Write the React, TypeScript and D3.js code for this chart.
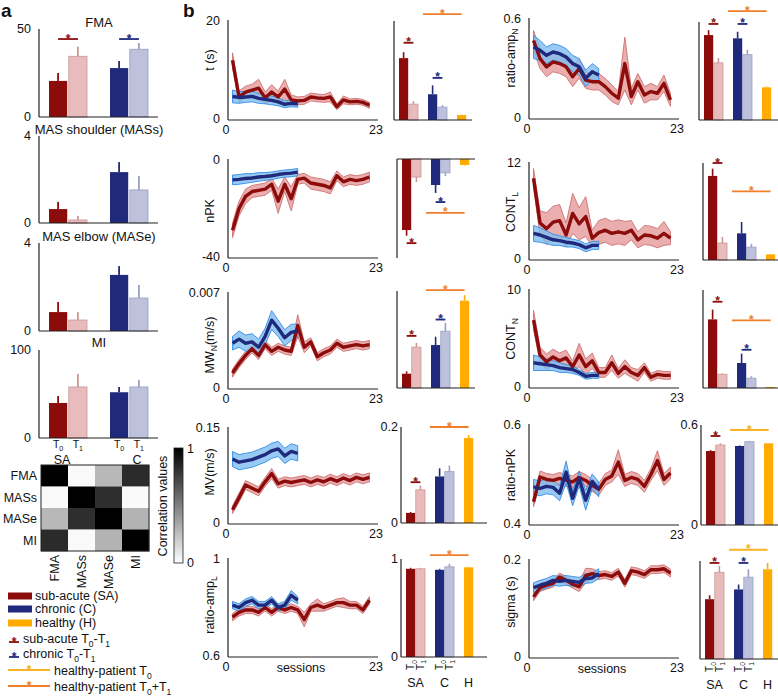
import { useEffect, useRef } from "react";
import * as d3 from "d3";

// ---------- data ----------
const SA_SESSIONS = [1, 2, 3, 4, 5, 6, 7, 8, 9, 10, 11, 12, 13, 14, 15, 16, 17, 18, 19, 20, 21, 22];
const C_SESSIONS = [1, 2, 3, 4, 5, 6, 7, 8, 9, 10, 11];
const BAR_KEYS: [string, string][] = [["SA", "T0"], ["SA", "T1"], ["C", "T0"], ["C", "T1"], ["H", "T0"]];

const T_SA = [12.0, 4.5, 5.5, 5.9, 6.3, 4.3, 5.5, 4.5, 6.1, 3.9, 3.7, 3.8, 4.5, 4.3, 4.2, 4.5, 2.5, 3.9, 3.5, 3.6, 3.4, 2.8];
const T_SA_ERR = [1.5, 1.2, 1.2, 1.2, 1.8, 1.2, 1.5, 1.2, 2.0, 1.0, 0.8, 0.8, 0.8, 0.8, 0.8, 1.0, 0.6, 0.8, 0.6, 0.6, 0.6, 0.6];
const T_C = [4.6, 4.4, 4.5, 4.6, 4.2, 4.0, 3.8, 3.5, 3.0, 3.2, 3.1];
const T_C_ERR = [1.3, 1.2, 1.1, 1.1, 1.0, 0.9, 0.9, 0.8, 0.7, 0.7, 0.7];
const T_BARS = [12.5, 3.2, 5.2, 2.6, 1.0];
const T_BARS_ERR = [1.2, 0.6, 1.8, 0.4, 0.1];

const NPK_SA = [-29, -20, -15, -13, -12.5, -12, -10, -17, -10, -16, -8, -7.5, -9.5, -10, -10.5, -11.5, -6.5, -9, -8, -8.5, -8, -7];
const NPK_SA_ERR = [3, 3, 3, 2.5, 2.5, 2.5, 2.5, 5, 3, 5, 2, 2, 2.5, 2.5, 2.5, 2.5, 2, 2, 2, 2, 2, 2];
const NPK_C = [-8.2, -8, -7.6, -7.4, -7, -6.8, -6.5, -6, -5.6, -5.4, -5];
const NPK_C_ERR = [2, 2, 2, 1.8, 1.8, 1.6, 1.6, 1.5, 1.5, 1.5, 1.5];
const NPK_BARS = [-28.7, -7.3, -10.5, -5.6, -2.4];
const NPK_BARS_ERR = [2.3, 2.0, 3.2, 1.3, 0.2];

const MW_SA = [0.0011, 0.0018, 0.0024, 0.0029, 0.0024, 0.0032, 0.0027, 0.003, 0.0028, 0.0027, 0.0046, 0.003, 0.0034, 0.0023, 0.0026, 0.0028, 0.0033, 0.003, 0.0031, 0.0032, 0.0031, 0.0032];
const MW_SA_ERR = [0.0003, 0.0003, 0.0003, 0.0003, 0.0003, 0.0003, 0.0003, 0.0003, 0.0003, 0.0003, 0.0008, 0.0004, 0.0003, 0.0003, 0.0003, 0.0003, 0.0003, 0.0003, 0.0003, 0.0003, 0.0003, 0.0003];
const MW_C = [0.0033, 0.0036, 0.0033, 0.0034, 0.003, 0.0038, 0.005, 0.0044, 0.0037, 0.0041, 0.0042];
const MW_C_ERR = [0.0005, 0.0006, 0.0006, 0.0006, 0.0006, 0.0006, 0.0007, 0.0006, 0.0006, 0.0006, 0.0005];
const MW_BARS = [0.00103, 0.00295, 0.0031, 0.0041, 0.0063];
const MW_BARS_ERR = [0.00017, 0.0003, 0.0006, 0.0006, 0.0004];

const MV_SA = [0.021, 0.04, 0.06, 0.055, 0.05, 0.065, 0.078, 0.062, 0.066, 0.064, 0.066, 0.068, 0.064, 0.068, 0.065, 0.07, 0.066, 0.071, 0.067, 0.072, 0.069, 0.072];
const MV_SA_ERR = [0.006, 0.007, 0.007, 0.007, 0.007, 0.007, 0.008, 0.007, 0.007, 0.007, 0.007, 0.007, 0.007, 0.007, 0.007, 0.007, 0.007, 0.007, 0.007, 0.007, 0.007, 0.007];
const MV_C = [0.101, 0.096, 0.098, 0.1, 0.104, 0.108, 0.114, 0.117, 0.106, 0.113, 0.11];
const MV_C_ERR = [0.012, 0.012, 0.012, 0.012, 0.012, 0.012, 0.012, 0.012, 0.012, 0.012, 0.012];
const MV_BARS = [0.021, 0.069, 0.097, 0.107, 0.177];
const MV_BARS_ERR = [0.002, 0.009, 0.017, 0.013, 0.006];

const RAL_SA = [0.76, 0.78, 0.79, 0.79, 0.78, 0.8, 0.78, 0.8, 0.79, 0.8, 0.79, 0.75, 0.8, 0.81, 0.8, 0.81, 0.82, 0.82, 0.81, 0.81, 0.79, 0.83];
const RAL_SA_ERR = [0.015, 0.015, 0.015, 0.015, 0.015, 0.015, 0.015, 0.015, 0.015, 0.015, 0.015, 0.03, 0.015, 0.025, 0.015, 0.015, 0.015, 0.02, 0.015, 0.015, 0.015, 0.015];
const RAL_C = [0.81, 0.8, 0.82, 0.83, 0.81, 0.81, 0.83, 0.8, 0.81, 0.85, 0.83];
const RAL_C_ERR = [0.015, 0.015, 0.015, 0.015, 0.015, 0.015, 0.015, 0.015, 0.015, 0.02, 0.015];
const RAL_BARS = [0.9, 0.9, 0.89, 0.92, 0.915];
const RAL_BARS_ERR = [0.01, 0.01, 0.01, 0.03, 0.005];

const RAN_SA = [0.47, 0.36, 0.31, 0.34, 0.33, 0.31, 0.25, 0.3, 0.23, 0.22, 0.22, 0.19, 0.15, 0.12, 0.33, 0.13, 0.22, 0.14, 0.16, 0.15, 0.21, 0.11];
const RAN_SA_ERR = [0.06, 0.06, 0.06, 0.06, 0.06, 0.06, 0.06, 0.06, 0.05, 0.05, 0.05, 0.05, 0.05, 0.04, 0.16, 0.05, 0.05, 0.05, 0.05, 0.04, 0.05, 0.04];
const RAN_C = [0.43, 0.41, 0.38, 0.4, 0.39, 0.37, 0.33, 0.31, 0.24, 0.28, 0.26];
const RAN_C_ERR = [0.07, 0.06, 0.05, 0.05, 0.05, 0.05, 0.05, 0.05, 0.05, 0.05, 0.04];
const RAN_BARS = [0.52, 0.35, 0.5, 0.4, 0.2];
const RAN_BARS_ERR = [0.03, 0.03, 0.04, 0.03, 0.005];

const CL_SA = [10.1, 4.5, 3.8, 4.6, 4.8, 3.0, 5.7, 4.4, 5.3, 2.6, 3.3, 3.6, 3.2, 3.4, 3.2, 3.6, 2.4, 3.0, 2.9, 2.6, 3.2, 2.6];
const CL_SA_ERR = [1.2, 1.5, 2.0, 2.0, 2.0, 1.5, 2.5, 2.0, 2.5, 1.0, 1.5, 1.5, 1.5, 1.5, 1.5, 1.2, 1.0, 1.2, 1.2, 1.2, 1.5, 0.8];
const CL_C = [3.2, 3.0, 2.7, 2.4, 2.3, 2.1, 2.0, 1.8, 1.4, 1.7, 1.7];
const CL_C_ERR = [1.0, 0.9, 0.8, 0.7, 0.6, 0.6, 0.5, 0.5, 0.5, 0.5, 0.5];
const CL_BARS = [10.4, 2.1, 3.3, 1.6, 0.7];
const CL_BARS_ERR = [0.9, 0.75, 1.4, 0.4, 0.05];

const CN_SA = [6.9, 3.3, 2.6, 3.1, 2.7, 3.0, 2.1, 3.3, 2.1, 2.7, 1.5, 1.5, 2.5, 1.4, 2.1, 1.5, 1.2, 2.0, 1.0, 1.3, 1.2, 1.2];
const CN_SA_ERR = [1.0, 0.8, 0.8, 0.8, 0.8, 0.8, 0.6, 1.2, 0.8, 0.8, 0.5, 0.5, 0.8, 0.5, 0.7, 0.5, 0.6, 0.5, 0.4, 0.4, 0.4, 0.4];
const CN_C = [2.5, 2.4, 2.3, 2.2, 2.0, 1.9, 1.8, 1.5, 1.1, 1.2, 1.2];
const CN_C_ERR = [0.8, 0.7, 0.6, 0.5, 0.5, 0.4, 0.4, 0.3, 0.3, 0.3, 0.3];
const CN_BARS = [7.0, 1.4, 2.55, 1.0, 0.1];
const CN_BARS_ERR = [1.0, 0.1, 0.95, 0.2, 0.02];

const RNPK_SA = [0.445, 0.495, 0.49, 0.488, 0.492, 0.488, 0.485, 0.494, 0.488, 0.478, 0.47, 0.49, 0.497, 0.525, 0.488, 0.494, 0.49, 0.476, 0.5, 0.528, 0.49, 0.503];
const RNPK_SA_ERR = [0.01, 0.012, 0.012, 0.012, 0.012, 0.012, 0.012, 0.012, 0.012, 0.012, 0.012, 0.012, 0.012, 0.025, 0.012, 0.012, 0.012, 0.012, 0.012, 0.02, 0.012, 0.012];
const RNPK_C = [0.475, 0.472, 0.476, 0.474, 0.462, 0.505, 0.452, 0.492, 0.448, 0.486, 0.47];
const RNPK_C_ERR = [0.015, 0.015, 0.015, 0.015, 0.015, 0.022, 0.015, 0.015, 0.02, 0.015, 0.015];
const RNPK_BARS = [0.444, 0.48, 0.474, 0.5, 0.49];
const RNPK_BARS_ERR = [0.005, 0.01, 0.003, 0.005, 0.002];

const SIG_SA = [0.124, 0.143, 0.148, 0.152, 0.165, 0.158, 0.15, 0.145, 0.168, 0.172, 0.168, 0.17, 0.166, 0.175, 0.152, 0.178, 0.175, 0.17, 0.18, 0.18, 0.182, 0.173];
const SIG_SA_ERR = [0.008, 0.008, 0.008, 0.008, 0.008, 0.008, 0.008, 0.01, 0.015, 0.01, 0.008, 0.008, 0.008, 0.008, 0.008, 0.008, 0.008, 0.008, 0.008, 0.008, 0.008, 0.008];
const SIG_C = [0.143, 0.148, 0.152, 0.158, 0.156, 0.158, 0.156, 0.154, 0.162, 0.163, 0.172];
const SIG_C_ERR = [0.01, 0.01, 0.01, 0.01, 0.01, 0.01, 0.01, 0.01, 0.01, 0.01, 0.01];
const SIG_BARS = [0.122, 0.177, 0.142, 0.167, 0.183];
const SIG_BARS_ERR = [0.008, 0.013, 0.01, 0.016, 0.013];

// significance markers: pair and height in data units
const T_STARS = [{ pair: "SA", v: 15.6 }, { pair: "C", v: 8.5 }, { pair: "H01", v: 21.4 }];
const NPK_STARS = [{ pair: "SA", v: -34 }, { pair: "C", v: -17.4 }, { pair: "H01", v: -21.8 }];
const MW_STARS = [{ pair: "SA", v: 0.00376 }, { pair: "C", v: 0.00494 }, { pair: "H01", v: 0.00707 }];
const MV_STARS = [{ pair: "SA", v: 0.085 }, { pair: "H01", v: 0.2 }];
const RAL_STARS = [{ pair: "H01", v: 1.04 }];
const RAN_STARS = [{ pair: "SA", v: 0.588 }, { pair: "C", v: 0.588 }, { pair: "H01", v: 0.667 }];
const CL_STARS = [{ pair: "SA", v: 12 }, { pair: "H01", v: 8.5 }];
const CN_STARS = [{ pair: "SA", v: 8.8 }, { pair: "C", v: 3.9 }, { pair: "H01", v: 6.9 }];
const RNPK_STARS = [{ pair: "SA", v: 0.534 }, { pair: "H0", v: 0.57 }];
const SIG_STARS = [{ pair: "SA", v: 0.196 }, { pair: "C", v: 0.196 }, { pair: "H0", v: 0.223 }];

// panel a clinical scales: SA T0, SA T1, C T0, C T1
const A_KEYS: [string, string][] = [["SA", "T0"], ["SA", "T1"], ["C", "T0"], ["C", "T1"]];
const FMA_VALS = [20.5, 34.5, 27.8, 38.5];
const FMA_ERR = [4.5, 5.5, 4, 3.5];
const MASS_VALS = [0.64, 0.14, 2.34, 1.52];
const MASS_ERR = [0.33, 0.18, 0.46, 0.64];
const MASE_VALS = [0.86, 0.5, 2.55, 1.5];
const MASE_ERR = [0.46, 0.36, 0.4, 0.59];
const MI_VALS = [39.8, 58, 52, 58];
const MI_ERR = [7.9, 14.7, 6, 8];
const FMA_STARS = [{ pair: "SA", v: 44.3 }, { pair: "C", v: 44.3 }];

const HM_LABELS = ["FMA", "MASs", "MASe", "MI"];
const HM_VALUES = [
  [1, 0.02, 0.28, 0.83],
  [0.02, 1, 0.82, 0.02],
  [0.28, 0.82, 1, 0.3],
  [0.83, 0.02, 0.3, 1],
];

// ---------- style ----------
const FONT = "'Liberation Sans', Arial, Helvetica, sans-serif";
const SA_COLOR = "#8c0c0c";
const SA_LIGHT = "#e8bcbc";
const SA_LIGHT_STROKE = "#cc9696";
const C_COLOR = "#202a7c";
const C_LIGHT = "#bec1db";
const C_LIGHT_STROKE = "#9a9fc6";
const H_COLOR = "#ffab00";
const STAR_T01 = "#f07f2a";
const STAR_T0 = "#f6b322";
const SA_BAND = "#e6a0a0";
const SA_BAND_STROKE = "#cf7070";
const C_BAND = "#80bdf0";
const C_BAND_STROKE = "#2f8ce6";

const CHARTS: any[] = [
  { label: [["t (s)"]], domain: [0, 20], sa: T_SA, saErr: T_SA_ERR, c: T_C, cErr: T_C_ERR, lx: 228, yt: 21, yb: 119, labelY: 60,
    bars: T_BARS, barsErr: T_BARS_ERR, stars: T_STARS, bx: 394, bLen: 78, bDomain: [0, 20], bBase: 120, bTop: 21 },
  { label: [["nPK"]], domain: [-40, 0], sa: NPK_SA, saErr: NPK_SA_ERR, c: NPK_C, cErr: NPK_C_ERR, lx: 228, yt: 160, yb: 257, labelY: 211,
    bars: NPK_BARS, barsErr: NPK_BARS_ERR, stars: NPK_STARS, bx: 397, bLen: 78, bDomain: [0, -40], bBase: 159, bTop: 258 },
  { label: [["MW"], ["N", true], ["(m/s)"]], domain: [0, 0.007], sa: MW_SA, saErr: MW_SA_ERR, c: MW_C, cErr: MW_C_ERR, lx: 228, yt: 293, yb: 388, labelY: 345,
    bars: MW_BARS, barsErr: MW_BARS_ERR, stars: MW_STARS, bx: 397, bLen: 78, bDomain: [0, 0.007], bBase: 388, bTop: 291 },
  { label: [["MV(m/s)"]], domain: [0, 0.15], sa: MV_SA, saErr: MV_SA_ERR, c: MV_C, cErr: MV_C_ERR, lx: 228, yt: 428, yb: 523, labelY: 472,
    bars: MV_BARS, barsErr: MV_BARS_ERR, stars: MV_STARS, bx: 401, bLen: 86, bDomain: [0, 0.2], bBase: 523, bTop: 427, bTicks: true },
  { label: [["ratio-amp"], ["L", true]], domain: [0.6, 1], sa: RAL_SA, saErr: RAL_SA_ERR, c: RAL_C, cErr: RAL_C_ERR, lx: 228, yt: 559, yb: 656, labelY: 605,
    bars: RAL_BARS, barsErr: RAL_BARS_ERR, stars: RAL_STARS, bx: 401, bLen: 86, bDomain: [0, 1], bBase: 657, bTop: 559, bTicks: true, bottom: true },
  { label: [["ratio-amp"], ["N", true]], domain: [0, 0.6], sa: RAN_SA, saErr: RAN_SA_ERR, c: RAN_C, cErr: RAN_C_ERR, lx: 529, yt: 19, yb: 118, labelY: 58,
    bars: RAN_BARS, barsErr: RAN_BARS_ERR, stars: RAN_STARS, bx: 699, bLen: 86, bDomain: [0, 0.6], bBase: 120, bTop: 22 },
  { label: [["CONT"], ["L", true]], domain: [0, 12], sa: CL_SA, saErr: CL_SA_ERR, c: CL_C, cErr: CL_C_ERR, lx: 529, yt: 163, yb: 259, labelY: 212,
    bars: CL_BARS, barsErr: CL_BARS_ERR, stars: CL_STARS, bx: 703, bLen: 86, bDomain: [0, 12], bBase: 260, bTop: 163 },
  { label: [["CONT"], ["N", true]], domain: [0, 10], sa: CN_SA, saErr: CN_SA_ERR, c: CN_C, cErr: CN_C_ERR, lx: 529, yt: 290, yb: 387, labelY: 339,
    bars: CN_BARS, barsErr: CN_BARS_ERR, stars: CN_STARS, bx: 703, bLen: 86, bDomain: [0, 10], bBase: 388, bTop: 290 },
  { label: [["ratio-nPK"]], domain: [0.4, 0.6], sa: RNPK_SA, saErr: RNPK_SA_ERR, c: RNPK_C, cErr: RNPK_C_ERR, lx: 529, yt: 425, yb: 524, labelY: 475,
    bars: RNPK_BARS, barsErr: RNPK_BARS_ERR, stars: RNPK_STARS, bx: 701, bLen: 86, bDomain: [0, 0.6], bBase: 525, bTop: 425, bTicks: true },
  { label: [["sigma (s)"]], domain: [0, 0.2], sa: SIG_SA, saErr: SIG_SA_ERR, c: SIG_C, cErr: SIG_C_ERR, lx: 529, yt: 560, yb: 657, labelY: 602,
    bars: SIG_BARS, barsErr: SIG_BARS_ERR, stars: SIG_STARS, bx: 700, bLen: 86, bDomain: [0, 0.2], bBase: 659, bTop: 561, bottom: true },
];

const A_PANELS = [
  { title: "FMA", vals: FMA_VALS, errs: FMA_ERR, max: 50, yt: 29, yb: 117, titleY: 22, stars: FMA_STARS },
  { title: "MAS shoulder (MASs)", vals: MASS_VALS, errs: MASS_ERR, max: 4, yt: 136, yb: 223, titleY: 129, stars: [] },
  { title: "MAS elbow (MASe)", vals: MASE_VALS, errs: MASE_ERR, max: 4, yt: 243, yb: 331, titleY: 236, stars: [] },
  { title: "MI", vals: MI_VALS, errs: MI_ERR, max: 100, yt: 350, yb: 438, titleY: 342, stars: [] },
];

// ---------- helpers ----------
function rich(sel: any, parts: any[], fs: number) {
  let prevSub = false;
  parts.forEach(([t, sub]: any) => {
    const ts = sel.append("tspan").text(t);
    if (sub) {
      ts.attr("font-size", fs * 0.68);
      if (!prevSub) ts.attr("dy", fs * 0.25);
    } else if (prevSub) ts.attr("dy", -fs * 0.25);
    prevSub = !!sub;
  });
}

function barStyle(grp: string, t: string) {
  if (grp === "H") return { fill: H_COLOR, stroke: "none", err: H_COLOR };
  if (grp === "SA") return t === "T0" ? { fill: SA_COLOR, stroke: "none", err: SA_COLOR } : { fill: SA_LIGHT, stroke: SA_LIGHT_STROKE, err: SA_LIGHT_STROKE };
  return t === "T0" ? { fill: C_COLOR, stroke: "none", err: C_COLOR } : { fill: C_LIGHT, stroke: C_LIGHT_STROKE, err: C_LIGHT_STROKE };
}

function star(g: any, x1: number, x2: number, yPx: number, color: string) {
  g.append("line").attr("x1", x1).attr("x2", x2).attr("y1", yPx).attr("y2", yPx).attr("stroke", color).attr("stroke-width", 1.8);
  g.append("text").attr("x", (x1 + x2) / 2).attr("y", yPx + 3.5).attr("text-anchor", "middle").attr("font-size", 12).attr("font-weight", "bold").attr("fill", color).text("*");
}

function drawLineChart(svg: any, c: any) {
  const g = svg.append("g");
  const x = d3.scaleLinear().domain([0, 23]).range([c.lx - 2, c.lx + 148]);
  const y = d3.scaleLinear().domain(c.domain).range([c.yb, c.yt]);

  const series = [
    { s: SA_SESSIONS, m: c.sa, e: c.saErr, fill: SA_BAND, stroke: SA_BAND_STROKE, line: SA_COLOR, op: 0.85 },
    { s: C_SESSIONS, m: c.c, e: c.cErr, fill: C_BAND, stroke: C_BAND_STROKE, line: C_COLOR, op: 0.8 },
  ];
  const area = d3.area<any>().x((d) => x(d.s)).y0((d) => y(d.m - d.e)).y1((d) => y(d.m + d.e));
  const line = d3.line<any>().x((d) => x(d.s)).y((d) => y(d.m));
  const pts = series.map((sr) => sr.s.map((s: number, i: number) => ({ s, m: sr.m[i], e: sr.e[i] })));

  series.forEach((sr, k) => {
    g.append("path").attr("d", area(pts[k])).attr("fill", sr.fill).attr("fill-opacity", sr.op).attr("stroke", sr.stroke).attr("stroke-width", 0.9);
  });
  series.forEach((sr, k) => {
    g.append("path").attr("d", line(pts[k])).attr("fill", "none").attr("stroke", sr.line).attr("stroke-width", 3.4).attr("stroke-linejoin", "round");
  });

  // axes
  g.append("line").attr("x1", c.lx).attr("x2", c.lx).attr("y1", c.yt - 1).attr("y2", c.yb + 1).attr("stroke", "#222").attr("stroke-width", 1.2);
  g.append("line").attr("x1", c.lx).attr("x2", c.lx + 150).attr("y1", c.yb + 1).attr("y2", c.yb + 1).attr("stroke", "#222").attr("stroke-width", 1.2);
  const [lo, hi] = c.domain;
  [hi, lo].forEach((v: number) => {
    g.append("text").attr("x", c.lx - 8).attr("y", y(v)).attr("dy", "0.35em").attr("text-anchor", "end").attr("font-size", 12.5).text(String(v));
  });
  [0, 23].forEach((v) => {
    g.append("text").attr("x", x(v)).attr("y", c.yb + 15).attr("text-anchor", "middle").attr("font-size", 12.5).text(String(v));
  });
  if (c.bottom) {
    g.append("text").attr("x", x(11.5)).attr("y", c.yb + 16).attr("text-anchor", "middle").attr("font-size", 12.5).text("sessions");
  }
  const lt = g.append("text").attr("transform", `translate(${c.lx - 14},${c.labelY}) rotate(-90)`).attr("text-anchor", "middle").attr("font-size", 12.5);
  rich(lt, c.label, 12.5);
}

function drawBarChart(svg: any, c: any) {
  const g = svg.append("g");
  const y = d3.scaleLinear().domain(c.bDomain).range([c.bBase, c.bTop]);
  const groups = d3.scaleBand().domain(["SA", "C", "H"]).range([c.bx + 5, c.bx + 82]).paddingInner(0.345);
  const inner = d3.scaleBand().domain(["T0", "T1"]).range([0, groups.bandwidth()]).paddingInner(0.06);
  const bw = inner.bandwidth();
  const bx = (grp: string, t: string) => (groups(grp) as number) + (grp === "H" ? 0 : (inner(t) as number));

  BAR_KEYS.forEach(([grp, t], i) => {
    const v = c.bars[i];
    const e = c.barsErr[i];
    const st = barStyle(grp, t);
    const x0 = bx(grp, t);
    const sign = v < 0 ? -1 : 1;
    g.append("line").attr("x1", x0 + bw / 2).attr("x2", x0 + bw / 2).attr("y1", y(v)).attr("y2", y(v + sign * e))
      .attr("stroke", st.err).attr("stroke-width", 1.6);
    g.append("rect").attr("x", x0).attr("width", bw).attr("y", Math.min(y(0), y(v))).attr("height", Math.abs(y(v) - y(0)))
      .attr("fill", st.fill).attr("stroke", st.stroke).attr("stroke-width", 0.8);
  });

  const [r0, r1] = y.range();
  g.append("line").attr("x1", c.bx).attr("x2", c.bx).attr("y1", Math.min(r0, r1)).attr("y2", Math.max(r0, r1)).attr("stroke", "#222").attr("stroke-width", 1.2);
  g.append("line").attr("x1", c.bx).attr("x2", c.bx + c.bLen).attr("y1", y(0)).attr("y2", y(0)).attr("stroke", "#222").attr("stroke-width", 1.2);

  if (c.bTicks) {
    c.bDomain.forEach((v: number) => {
      g.append("text").attr("x", c.bx - 3).attr("y", y(v)).attr("dy", "0.35em").attr("text-anchor", "end").attr("font-size", 12.5).text(String(v));
    });
  }

  c.stars.forEach((s: any) => {
    const yy = y(s.v);
    if (s.pair === "SA" || s.pair === "C") {
      const color = s.pair === "SA" ? SA_COLOR : C_COLOR;
      star(g, bx(s.pair, "T0") + bw / 2, bx(s.pair, "T1") + bw / 2, yy, color);
    } else {
      const xa = ((groups("SA") as number) + groups.bandwidth() + (groups("C") as number)) / 2;
      star(g, xa, bx("H", "T0") + bw / 2, yy, s.pair === "H0" ? STAR_T0 : STAR_T01);
    }
  });

  if (c.bottom) {
    BAR_KEYS.slice(0, 4).forEach(([grp, t]) => {
      const cx = bx(grp, t) + bw / 2 + 3.5;
      const tt = g.append("text").attr("transform", `translate(${cx},${y(0) + 3}) rotate(-90)`).attr("text-anchor", "end").attr("font-size", 10);
      rich(tt, [["T"], [t.slice(1), true]], 10);
    });
    ["SA", "C", "H"].forEach((grp) => {
      const cx = grp === "H" ? bx("H", "T0") + bw / 2 : (groups(grp) as number) + groups.bandwidth() / 2;
      g.append("text").attr("x", cx).attr("y", y(0) + 30).attr("text-anchor", "middle").attr("font-size", 12.5).text(grp);
    });
  }
}

function drawPanelA(svg: any) {
  const groups = d3.scaleBand().domain(["SA", "C"]).range([49, 148]).paddingInner(0.377);
  const inner = d3.scaleBand().domain(["T0", "T1"]).range([0, groups.bandwidth()]).paddingInner(0.08);
  const bw = inner.bandwidth();
  const bx = (grp: string, t: string) => (groups(grp) as number) + (inner(t) as number);
  const ax = 39;

  A_PANELS.forEach((p) => {
    const g = svg.append("g");
    const y = d3.scaleLinear().domain([0, p.max]).range([p.yb, p.yt]);
    g.append("text").attr("x", 99).attr("y", p.titleY).attr("dy", "0.35em").attr("text-anchor", "middle").attr("font-size", 13).text(p.title);
    A_KEYS.forEach(([grp, t], i) => {
      const v = p.vals[i];
      const st = barStyle(grp, t);
      const x0 = bx(grp, t);
      g.append("line").attr("x1", x0 + bw / 2).attr("x2", x0 + bw / 2).attr("y1", y(v)).attr("y2", y(v + p.errs[i])).attr("stroke", st.err).attr("stroke-width", 1.8);
      g.append("rect").attr("x", x0).attr("width", bw).attr("y", y(v)).attr("height", y(0) - y(v)).attr("fill", st.fill).attr("stroke", st.stroke).attr("stroke-width", 0.8);
    });
    g.append("line").attr("x1", ax).attr("x2", ax).attr("y1", p.yt).attr("y2", p.yb).attr("stroke", "#222").attr("stroke-width", 1.2);
    g.append("line").attr("x1", ax).attr("x2", 158).attr("y1", p.yb).attr("y2", p.yb).attr("stroke", "#222").attr("stroke-width", 1.2);
    [p.max, 0].forEach((v) => {
      g.append("text").attr("x", 31).attr("y", y(v)).attr("dy", "0.35em").attr("text-anchor", "end").attr("font-size", 12.5).text(String(v));
    });
    p.stars.forEach((s: any) => {
      star(g, bx(s.pair, "T0") + bw / 2, bx(s.pair, "T1") + bw / 2, y(s.v), s.pair === "SA" ? SA_COLOR : C_COLOR);
    });
    if (p.title === "MI") {
      A_KEYS.forEach(([grp, t]) => {
        const tt = g.append("text").attr("x", bx(grp, t) + bw / 2).attr("y", p.yb + 10).attr("text-anchor", "middle").attr("font-size", 10.5);
        rich(tt, [["T"], [t.slice(1), true]], 10.5);
      });
      g.append("text").attr("x", 62).attr("y", p.yb + 26).attr("text-anchor", "middle").attr("font-size", 12.5).text("SA");
      g.append("text").attr("x", 137).attr("y", p.yb + 26).attr("text-anchor", "middle").attr("font-size", 12.5).text("C");
    }
  });
}

function drawHeatmap(svg: any) {
  const g = svg.append("g");
  const x = d3.scaleBand().domain(HM_LABELS).range([41, 149]);
  const y = d3.scaleBand().domain(HM_LABELS).range([465, 551]);
  const color = d3.scaleLinear<string>().domain([0, 1]).range(["#ffffff", "#000000"]);
  HM_VALUES.forEach((row, i) => {
    row.forEach((v, j) => {
      g.append("rect").attr("x", x(HM_LABELS[j])).attr("y", y(HM_LABELS[i])).attr("width", x.bandwidth() + 0.3).attr("height", y.bandwidth() + 0.3).attr("fill", color(v));
    });
  });
  g.append("rect").attr("x", 41).attr("y", 465).attr("width", 108).attr("height", 86).attr("fill", "none").attr("stroke", "#222").attr("stroke-width", 1);
  HM_LABELS.forEach((l) => {
    g.append("text").attr("x", 37).attr("y", (y(l) as number) + y.bandwidth() / 2).attr("dy", "0.35em").attr("text-anchor", "end").attr("font-size", 12.5).text(l);
    g.append("text").attr("transform", `translate(${(x(l) as number) + x.bandwidth() / 2 + 4.5},555) rotate(-90)`).attr("text-anchor", "end").attr("font-size", 12.5).text(l);
  });
  const defs = svg.append("defs");
  const grad = defs.append("linearGradient").attr("id", "cbar").attr("x1", 0).attr("y1", 0).attr("x2", 0).attr("y2", 1);
  grad.append("stop").attr("offset", "0%").attr("stop-color", color(1));
  grad.append("stop").attr("offset", "100%").attr("stop-color", color(0));
  g.append("rect").attr("x", 174).attr("y", 448).attr("width", 9).attr("height", 115).attr("fill", "url(#cbar)").attr("stroke", "#222").attr("stroke-width", 0.8);
  g.append("text").attr("x", 187).attr("y", 449).attr("dy", "0.35em").attr("font-size", 12.5).text("1");
  g.append("text").attr("x", 187).attr("y", 563).attr("dy", "0.35em").attr("font-size", 12.5).text("0");
  g.append("text").attr("transform", "translate(167,506) rotate(-90)").attr("text-anchor", "middle").attr("font-size", 12.5).text("Correlation values");
}

function drawLegend(svg: any) {
  const g = svg.append("g").attr("font-size", 12.5);
  const swatches = [
    { c: SA_COLOR, t: "sub-acute (SA)", y: 596 },
    { c: C_COLOR, t: "chronic (C)", y: 609 },
    { c: H_COLOR, t: "healthy (H)", y: 623 },
  ];
  swatches.forEach((s) => {
    g.append("rect").attr("x", 8).attr("y", s.y - 3.5).attr("width", 24).attr("height", 7).attr("fill", s.c);
    g.append("text").attr("x", 35).attr("y", s.y).attr("dy", "0.35em").text(s.t);
  });
  const pairs = [
    { c: SA_COLOR, t: "sub-acute ", y: 639 },
    { c: C_COLOR, t: "chronic ", y: 654 },
  ];
  pairs.forEach((p) => {
    star(g, 9, 19, p.y + 3, p.c);
    const tt = g.append("text").attr("x", 23).attr("y", p.y).attr("dy", "0.35em");
    rich(tt, [[p.t + "T"], ["0", true], ["-T"], ["1", true]], 12.5);
  });
  const hp = [
    { c: STAR_T0, parts: [["healthy-patient T"], ["0", true]], y: 671 },
    { c: STAR_T01, parts: [["healthy-patient T"], ["0", true], ["+T"], ["1", true]], y: 687 },
  ];
  hp.forEach((p) => {
    star(g, 8, 50, p.y - 1, p.c);
    const tt = g.append("text").attr("x", 54).attr("y", p.y).attr("dy", "0.35em");
    rich(tt, p.parts, 12.5);
  });
}

export default function App() {
  const ref = useRef<SVGSVGElement>(null);
  useEffect(() => {
    const svg = d3.select(ref.current);
    svg.selectAll("*").remove();
    svg.attr("font-family", FONT).attr("fill", "#111");
    drawPanelA(svg);
    drawHeatmap(svg);
    drawLegend(svg);
    CHARTS.forEach((c) => {
      drawLineChart(svg, c);
      drawBarChart(svg, c);
    });
    svg.append("text").attr("x", 1).attr("y", 17).attr("font-size", 19).attr("font-weight", "bold").text("a");
    svg.append("text").attr("x", 183).attr("y", 17).attr("font-size", 19).attr("font-weight", "bold").text("b");
  }, []);
  return <svg ref={ref} width={778} height={697} style={{ position: "absolute", left: 0, top: 0, background: "#fff" }} />;
}
